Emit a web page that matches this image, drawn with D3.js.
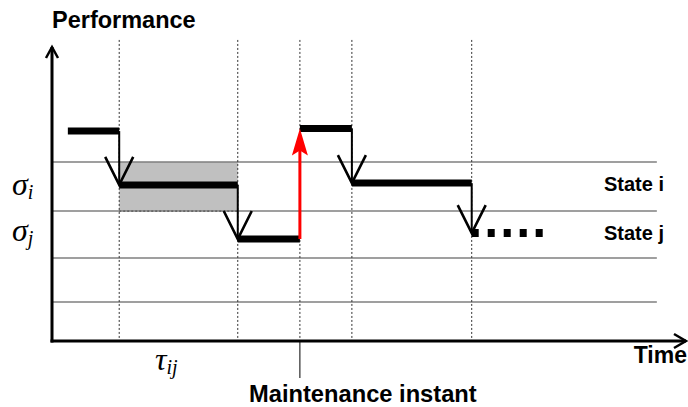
<!DOCTYPE html>
<html>
<head>
<meta charset="utf-8">
<script src="https://cdn.jsdelivr.net/npm/d3@7"></script>
<style>
  body { margin: 0; background: #fff; }
  svg { display: block; }
  .lbl { font-family: "Liberation Sans", Arial, sans-serif; font-weight: bold; fill: #000; }
  .sym { font-family: "Liberation Serif", "Times New Roman", serif; font-style: italic; fill: #000; }
</style>
</head>
<body>
<svg id="chart" width="688" height="407"></svg>
<script>
// time instants (0-100) and performance levels (0-10)
const eventTimes = [10.6, 29.3, 39.1, 47.3, 66.2];
const gridLevels = [6.09, 4.42, 2.82, 1.33];
const stepStart = [2.5, 10.6, 29.3, 39.1, 47.3];
const stepEnd = [10.6, 29.3, 39.1, 47.3, 66.2];
const stepLevel = [7.14, 5.31, 3.47, 7.23, 5.37];
const futureStep = { t0: 66.2, t1: 77.4, p: 3.67 };
const maintenanceTime = 39.1;
const stateBand = { t0: 10.6, t1: 29.3, lo: 4.42, hi: 6.09 };
const gridEnd = 95.4;
const stateLabels = ['State i', 'State j'];

const svg = d3.select('#chart');

const x = d3.scaleLinear().domain([0, 100]).range([52, 686]);
const y = d3.scaleLinear().domain([0, 10]).range([341, 47]);

// shaded band for the residence time in state i
svg.append('rect')
    .attr('x', x(stateBand.t0))
    .attr('y', y(stateBand.hi))
    .attr('width', x(stateBand.t1) - x(stateBand.t0))
    .attr('height', y(stateBand.lo) - y(stateBand.hi))
    .attr('fill', '#c0c0c0');

// horizontal gridlines
svg.append('g').selectAll('line')
    .data(gridLevels)
    .join('line')
    .attr('x1', x(0)).attr('x2', x(gridEnd))
    .attr('y1', d => y(d)).attr('y2', d => y(d))
    .attr('stroke', '#7f7f7f')
    .attr('stroke-width', 1.5);

// dotted bottom edge of band
svg.append('line')
    .attr('x1', x(stateBand.t0)).attr('x2', x(stateBand.t1))
    .attr('y1', y(stateBand.lo)).attr('y2', y(stateBand.lo))
    .attr('stroke', '#555')
    .attr('stroke-width', 1.2)
    .attr('stroke-dasharray', '2,2');

// vertical dotted lines at event instants
svg.append('g').selectAll('line')
    .data(eventTimes)
    .join('line')
    .attr('x1', d => x(d)).attr('x2', d => x(d))
    .attr('y1', y(10.24)).attr('y2', y(0))
    .attr('stroke', '#333')
    .attr('stroke-width', 1)
    .attr('stroke-dasharray', '2,2');

// maintenance pointer below axis
svg.append('line')
    .attr('x1', x(maintenanceTime)).attr('x2', x(maintenanceTime))
    .attr('y1', y(0)).attr('y2', 378)
    .attr('stroke', '#000')
    .attr('stroke-width', 1);

// degradation transitions (vertical drops with open arrowheads)
const drops = [];
for (let i = 0; i < stepLevel.length - 1; i++) {
  if (stepLevel[i + 1] < stepLevel[i]) drops.push({ t: stepEnd[i], from: stepLevel[i], to: stepLevel[i + 1] });
}
drops.push({ t: futureStep.t0, from: stepLevel[stepLevel.length - 1], to: futureStep.p });

const dropG = svg.append('g');
dropG.selectAll('line')
    .data(drops)
    .join('line')
    .attr('x1', d => x(d.t)).attr('x2', d => x(d.t))
    .attr('y1', d => y(d.from)).attr('y2', d => y(d.to))
    .attr('stroke', '#000')
    .attr('stroke-width', 2);
dropG.selectAll('path')
    .data(drops)
    .join('path')
    .attr('d', d => {
      const tx = x(d.t), ty = y(d.to);
      return `M${tx - 14},${ty - 28}L${tx},${ty}L${tx + 14},${ty - 28}`;
    })
    .attr('fill', 'none')
    .attr('stroke', '#000')
    .attr('stroke-width', 2.6);

// performance steps
svg.append('g').selectAll('line')
    .data(stepLevel)
    .join('line')
    .attr('x1', (d, i) => x(stepStart[i]))
    .attr('x2', (d, i) => x(stepEnd[i]))
    .attr('y1', d => y(d)).attr('y2', d => y(d))
    .attr('stroke', '#000')
    .attr('stroke-width', 7);

// future step (dotted)
svg.append('line')
    .attr('x1', x(futureStep.t0)).attr('x2', x(futureStep.t1))
    .attr('y1', y(futureStep.p)).attr('y2', y(futureStep.p))
    .attr('stroke', '#000')
    .attr('stroke-width', 8)
    .attr('stroke-dasharray', '7,9');

// maintenance (red arrow up)
const mx = x(maintenanceTime);
const mFrom = y(stepLevel[2]), mTo = y(stepLevel[3]);
svg.append('line')
    .attr('x1', mx).attr('x2', mx)
    .attr('y1', mFrom).attr('y2', mTo + 20)
    .attr('stroke', '#ff0000')
    .attr('stroke-width', 3);
svg.append('path')
    .attr('d', `M${mx},${mTo}L${mx + 8},${mTo + 27}L${mx},${mTo + 22}L${mx - 8},${mTo + 27}Z`)
    .attr('fill', '#ff0000');

// axes
svg.append('line')
    .attr('x1', x(0)).attr('x2', x(0))
    .attr('y1', y(0) + 1.5).attr('y2', y(10))
    .attr('stroke', '#000').attr('stroke-width', 3);
svg.append('line')
    .attr('x1', x(0) - 1.5).attr('x2', x(100))
    .attr('y1', y(0)).attr('y2', y(0))
    .attr('stroke', '#000').attr('stroke-width', 3);
svg.append('path')
    .attr('d', `M${x(0) - 6},${y(10) + 11}L${x(0)},${y(10)}L${x(0) + 6},${y(10) + 11}`)
    .attr('fill', 'none').attr('stroke', '#000').attr('stroke-width', 2.5);
svg.append('path')
    .attr('d', `M${x(100) - 12},${y(0) - 7}L${x(100)},${y(0)}L${x(100) - 12},${y(0) + 7}`)
    .attr('fill', 'none').attr('stroke', '#000').attr('stroke-width', 2.5);

// labels
svg.append('text').attr('class', 'lbl')
    .attr('x', 52).attr('y', 28)
    .style('font-size', '23.5px')
    .text('Performance');
svg.append('text').attr('class', 'lbl')
    .attr('x', 687).attr('y', 363)
    .attr('text-anchor', 'end')
    .style('font-size', '23px')
    .text('Time');
svg.append('text').attr('class', 'lbl')
    .attr('x', 249).attr('y', 402)
    .style('font-size', '23.7px')
    .text('Maintenance instant');
svg.selectAll('.state')
    .data(stateLabels)
    .join('text')
    .attr('class', 'lbl state')
    .attr('x', 604)
    .attr('y', (d, i) => i === 0 ? 191 : 240)
    .style('font-size', '20px')
    .text(d => d);

// sigma and tau symbols
const syms = [
  { base: 'σ', sub: 'i', x: 12, y: 195 },
  { base: 'σ', sub: 'j', x: 12, y: 241 },
  { base: 'τ', sub: 'ij', x: 155, y: 370 }
];
syms.forEach(s => {
  const t = svg.append('text').attr('class', 'sym')
      .attr('x', s.x).attr('y', s.y)
      .style('font-size', '32px');
  t.append('tspan').text(s.base);
  t.append('tspan').attr('dy', 4).style('font-size', '20px').text(s.sub);
});
</script>
</body>
</html>
